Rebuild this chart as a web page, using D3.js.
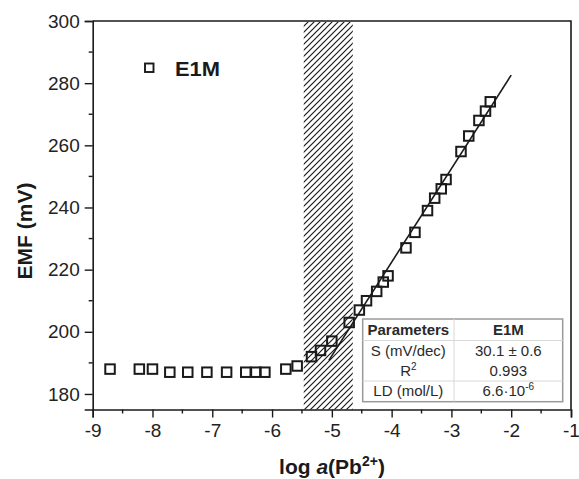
<!DOCTYPE html>
<html>
<head>
<meta charset="utf-8">
<script src="https://cdn.jsdelivr.net/npm/d3@7"></script>
<style>
  html, body { margin: 0; padding: 0; background: #fff; }
  svg { display: block; font-family: "Liberation Sans", Arial, sans-serif; }
</style>
</head>
<body>
<svg id="chart" width="579" height="479"></svg>
<script>
// ---- data ----
const logA = [-8.71,-8.22,-8.0,-7.71,-7.41,-7.09,-6.76,-6.44,-6.27,-6.12,-5.77,-5.58,-5.34,-5.19,-5.0,-4.71,-4.54,-4.42,-4.25,-4.14,-4.06,-3.76,-3.61,-3.40,-3.28,-3.17,-3.09,-2.84,-2.71,-2.54,-2.43,-2.35];
const emf  = [188,188,188,187,187,187,187,187,187,187,188,189,192,194,197,203,207,210,213,216,218,227,232,239,243,246,249,258,263,268,271,274];
const fitX = [-5.05, -2.0];
const fitY = [190.8, 282.6];
const hatchRange = [-5.47, -4.65];
const xTicks = [-9,-8,-7,-6,-5,-4,-3,-2,-1];
const yTicks = [180,200,220,240,260,280,300];
const seriesName = "E1M";
const tableHeader = ["Parameters", "E1M"];
const tableRows = [
  [["S (mV/dec)"], ["30.1 ± 0.6"]],
  [["R", "2"], ["0.993"]],
  [["LD (mol/L)"], ["6.6·10", "-6"]]
];

// ---- layout ----
const svg = d3.select("#chart");
const L = 92.7, R = 571, T = 21, B = 409.5;
const x = d3.scaleLinear().domain([-9, -1]).range([L, R]);
const y = d3.scaleLinear().domain([175, 300]).range([B, T]);
const ink = "#1a1a1a";

// hatch pattern
const defs = svg.append("defs");
const pat = defs.append("pattern").attr("id", "hatch")
  .attr("patternUnits", "userSpaceOnUse").attr("width", 6).attr("height", 6);
pat.append("path").attr("d", "M-1,1 l2,-2 M0,6 l6,-6 M5,7 l2,-2")
  .attr("stroke", "#1a1a1a").attr("stroke-width", 1.2);

svg.append("rect")
  .attr("x", x(hatchRange[0])).attr("y", T + 1)
  .attr("width", x(hatchRange[1]) - x(hatchRange[0]))
  .attr("height", B - T - 1)
  .attr("fill", "url(#hatch)");

// frame (top & right)
svg.append("path")
  .attr("d", `M${L},${T} H${R} V${B}`)
  .attr("fill", "none").attr("stroke", ink).attr("stroke-width", 1.6);

// axes
const xAxis = d3.axisBottom(x).tickValues(xTicks).tickSize(8).tickPadding(6).tickFormat(d3.format("d"));
const gx = svg.append("g").attr("transform", `translate(0,${B})`).call(xAxis);
const yAxis = d3.axisLeft(y).tickValues(yTicks).tickSize(8).tickPadding(5).tickFormat(d3.format("d"));
const gy = svg.append("g").attr("transform", `translate(${L},0)`).call(yAxis);
[gx, gy].forEach(g => {
  g.select(".domain").attr("stroke", ink).attr("stroke-width", 1.6);
  g.selectAll(".tick line").attr("stroke", ink).attr("stroke-width", 1.4);
  g.selectAll(".tick text").attr("fill", "#222").attr("font-size", 19)
    .attr("font-family", "'Liberation Sans', Arial, sans-serif");
});
gx.selectAll(".tick text").text(d => d < 0 ? "-" + Math.abs(d) : d);

// minor ticks
const xMinor = d3.range(-8.5, -1, 1);
svg.append("g").selectAll("line").data(xMinor).join("line")
  .attr("x1", d => x(d)).attr("x2", d => x(d))
  .attr("y1", B).attr("y2", B + 4)
  .attr("stroke", ink).attr("stroke-width", 1.4);
const yMinor = [190,210,230,250,270,290];
svg.append("g").selectAll("line").data(yMinor).join("line")
  .attr("x1", L - 4).attr("x2", L)
  .attr("y1", d => y(d)).attr("y2", d => y(d))
  .attr("stroke", ink).attr("stroke-width", 1.4);

// fit line
svg.append("line")
  .attr("x1", x(fitX[0])).attr("y1", y(fitY[0]))
  .attr("x2", x(fitX[1])).attr("y2", y(fitY[1]))
  .attr("stroke", ink).attr("stroke-width", 1.6);

// markers
const s = 9.5;
svg.append("g").selectAll("rect").data(logA.map((d, i) => [d, emf[i]])).join("rect")
  .attr("x", d => x(d[0]) - s / 2).attr("y", d => y(d[1]) - s / 2)
  .attr("width", s).attr("height", s)
  .attr("fill", "none").attr("stroke", ink).attr("stroke-width", 2);

// legend
svg.append("rect").attr("x", 145).attr("y", 63.5).attr("width", 8.5).attr("height", 8.5)
  .attr("fill", "none").attr("stroke", ink).attr("stroke-width", 1.9);
svg.append("text").attr("x", 175).attr("y", 76).attr("font-size", 20).attr("font-weight", "bold")
  .attr("fill", ink).attr("textLength", 45).attr("lengthAdjust", "spacingAndGlyphs").text(seriesName);

// axis titles
const xt = svg.append("text").attr("x", 332).attr("y", 474).attr("text-anchor", "middle")
  .attr("font-size", 21).attr("font-weight", "bold").attr("fill", ink);
xt.append("tspan").text("log ");
xt.append("tspan").attr("font-style", "italic").text("a");
xt.append("tspan").text("(Pb");
xt.append("tspan").attr("dy", -8).attr("font-size", 14).text("2+");
xt.append("tspan").attr("dy", 8).text(")");

svg.append("text")
  .attr("transform", "translate(32,231) rotate(-90)")
  .attr("text-anchor", "middle").attr("font-size", 21).attr("font-weight", "bold")
  .attr("fill", ink).text("EMF (mV)");

// parameter table
const tx0 = 362.7, tx1 = 562.7, tdiv = 454, ty0 = 319, ty1 = 401.7;
const tb = svg.append("g");
tb.append("rect").attr("x", tx0).attr("y", ty0).attr("width", tx1 - tx0).attr("height", ty1 - ty0)
  .attr("fill", "#fff").attr("stroke", "#9a9a9a").attr("stroke-width", 1.5);
tb.append("line").attr("x1", tdiv).attr("x2", tdiv).attr("y1", ty0).attr("y2", ty1)
  .attr("stroke", "#d8d8d8").attr("stroke-width", 1);
[340.5, 381].forEach(yy => tb.append("line").attr("x1", tx0).attr("x2", tx1)
  .attr("y1", yy).attr("y2", yy).attr("stroke", "#d8d8d8").attr("stroke-width", 1));
const c1 = (tx0 + tdiv) / 2, c2 = (tdiv + tx1) / 2;
const rowBase = [334.5, 355.5, 375.5, 396];
function cell(cx, by, parts, bold) {
  const t = tb.append("text").attr("x", cx).attr("y", by).attr("text-anchor", "middle")
    .attr("font-size", 15).attr("fill", "#2a2a2a").attr("font-weight", bold ? "bold" : "normal");
  t.append("tspan").text(parts[0]);
  if (parts[1]) t.append("tspan").attr("dy", -6).attr("font-size", 10).text(parts[1]);
}
cell(c1, rowBase[0], [tableHeader[0]], true);
cell(c2, rowBase[0], [tableHeader[1]], true);
tableRows.forEach((r, i) => {
  cell(c1, rowBase[i + 1], r[0], false);
  cell(c2, rowBase[i + 1], r[1], false);
});
</script>
</body>
</html>
